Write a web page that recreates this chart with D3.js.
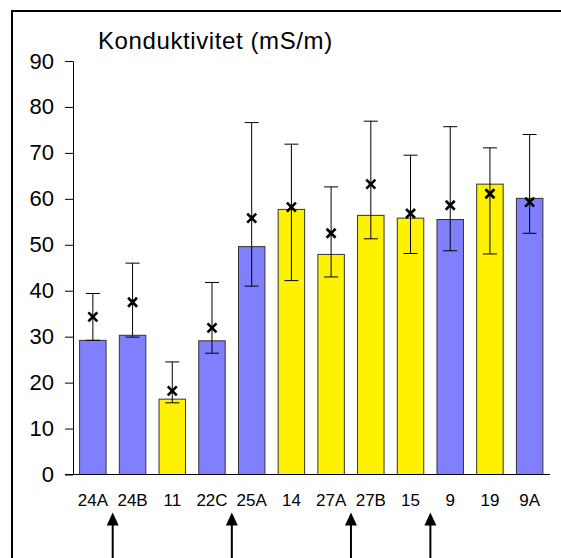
<!DOCTYPE html>
<html>
<head>
<meta charset="utf-8">
<script src="https://cdn.jsdelivr.net/npm/d3@7"></script>
<style>
  body { margin: 0; background: #fff; }
  svg { display: block; font-family: "Liberation Sans", Arial, sans-serif; }
</style>
</head>
<body>
<div id="chart"></div>
<script>
"use strict";
// conductivity per station (mS/m)
var categories = ["24A", "24B", "11", "22C", "25A", "14", "27A", "27B", "15", "9", "19", "9A"];
var barValues  = [29.2, 30.3, 16.4, 29.1, 49.6, 57.7, 47.9, 56.4, 55.8, 55.5, 63.2, 60.1];
var meanValues = [34.3, 37.5, 18.2, 31.9, 55.8, 58.2, 52.5, 63.2, 56.8, 58.6, 61.1, 59.3];
var errLow     = [29.2, 29.9, 15.6, 26.4, 41.0, 42.2, 43.0, 51.3, 48.1, 48.7, 48.0, 52.5];
var errHigh    = [39.4, 46.0, 24.5, 41.8, 76.6, 71.9, 62.6, 76.9, 69.5, 75.7, 71.1, 74.0];
var groups     = ["b", "b", "y", "b", "b", "y", "y", "y", "y", "b", "y", "b"];
var yTicks     = [0, 10, 20, 30, 40, 50, 60, 70, 80, 90];
// arrows sit right after these stations
var arrowAfter = ["24A", "22C", "27A", "15"];

var width = 561, height = 558;
var colors = { b: "#8080ff", y: "#fff200" };

var svg = d3.select("#chart").append("svg")
    .attr("width", width)
    .attr("height", height);

// frame (runs off the right and bottom of the picture)
svg.append("rect")
    .attr("x", 12).attr("y", 11)
    .attr("width", 700).attr("height", 700)
    .attr("fill", "none")
    .attr("stroke", "#000")
    .attr("stroke-width", 2);

var x = d3.scaleBand()
    .domain(categories)
    .range([73, 549.5])
    .paddingInner(1 / 3)
    .paddingOuter(1 / 6);

var y = d3.scaleLinear()
    .domain([0, 90])
    .range([474.5, 61]);

var data = categories.map(function (c, i) {
    return { cat: c, bar: barValues[i], mean: meanValues[i], lo: errLow[i], hi: errHigh[i], g: groups[i] };
});

// y axis
var yAxis = svg.append("g")
    .attr("transform", "translate(73,0)")
    .call(d3.axisLeft(y).tickValues(yTicks).tickSize(8).tickPadding(11).tickSizeOuter(0));
yAxis.select(".domain").attr("stroke", "#000");
yAxis.selectAll(".tick line").attr("stroke", "#000");
yAxis.selectAll(".tick text")
    .attr("font-size", 22)
    .attr("font-family", "Liberation Sans, Arial, sans-serif")
    .attr("fill", "#000");

// bars
svg.append("g").selectAll("rect")
    .data(data)
    .join("rect")
    .attr("x", function (d) { return x(d.cat); })
    .attr("y", function (d) { return y(d.bar); })
    .attr("width", x.bandwidth())
    .attr("height", function (d) { return y(0) - y(d.bar); })
    .attr("fill", function (d) { return colors[d.g]; })
    .attr("stroke", "#333")
    .attr("stroke-width", 1);

// x axis line
svg.append("line")
    .attr("x1", 65).attr("x2", 550)
    .attr("y1", y(0)).attr("y2", y(0))
    .attr("stroke", "#000")
    .attr("stroke-width", 1.2);

// x labels
svg.append("g").selectAll("text")
    .data(categories)
    .join("text")
    .attr("x", function (d) { return x(d) + x.bandwidth() / 2; })
    .attr("y", 505.5)
    .attr("text-anchor", "middle")
    .attr("font-size", 17)
    .text(function (d) { return d; });

// error bars
var err = svg.append("g").attr("stroke", "#000").attr("stroke-width", 1);
data.forEach(function (d) {
    var cx = x(d.cat) + x.bandwidth() / 2;
    err.append("line").attr("x1", cx).attr("x2", cx).attr("y1", y(d.lo)).attr("y2", y(d.hi));
    err.append("line").attr("x1", cx - 7).attr("x2", cx + 7).attr("y1", y(d.hi)).attr("y2", y(d.hi));
    err.append("line").attr("x1", cx - 7).attr("x2", cx + 7).attr("y1", y(d.lo)).attr("y2", y(d.lo));
});

// mean markers
var s = 4.5;
svg.append("g").selectAll("path")
    .data(data)
    .join("path")
    .attr("transform", function (d) {
        return "translate(" + (x(d.cat) + x.bandwidth() / 2) + "," + y(d.mean) + ")";
    })
    .attr("d", "M" + (-s) + "," + (-s) + "L" + s + "," + s + "M" + s + "," + (-s) + "L" + (-s) + "," + s)
    .attr("stroke", "#000")
    .attr("stroke-width", 2.6)
    .attr("fill", "none");

// title
svg.append("text")
    .attr("x", 98)
    .attr("y", 49)
    .attr("font-size", 24)
    .attr("letter-spacing", 0.6)
    .text("Konduktivitet (mS/m)");

// arrows
var arrows = svg.append("g");
arrowAfter.forEach(function (c) {
    var ax = x(c) + x.bandwidth() + x.step() * x.paddingInner() / 2;
    arrows.append("line")
        .attr("x1", ax).attr("x2", ax)
        .attr("y1", 524).attr("y2", 560)
        .attr("stroke", "#000")
        .attr("stroke-width", 2);
    arrows.append("path")
        .attr("d", "M" + ax + ",512.5L" + (ax + 6) + ",525.5L" + (ax - 6) + ",525.5Z")
        .attr("fill", "#000");
});
</script>
</body>
</html>
